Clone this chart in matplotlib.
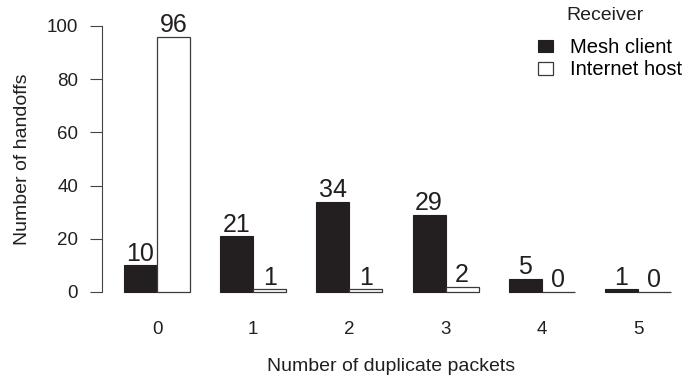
import matplotlib.pyplot as plt
import numpy as np

plt.rcParams['font.family'] = ['Liberation Sans', 'DejaVu Sans']

# Handoff counts by number of duplicate packets
dup_packets = ['0', '1', '2', '3', '4', '5']
mesh_client = [10, 21, 34, 29, 5, 1]
internet_host = [96, 1, 1, 2, 0, 0]


def main() -> None:
    W, H = 684, 379
    fig = plt.figure(figsize=(W / 100, H / 100), dpi=100)
    # plot region: spine at x=102 px, y from 26 px (100) to 292 px (0)
    ax = fig.add_axes([102 / W, (H - 292) / H, 578 / W, 266 / H])

    x = np.arange(len(dup_packets))
    w = 0.343
    ink = '#231f20'

    b1 = ax.bar(x - w / 2, mesh_client, w, color=ink, edgecolor=ink, lw=0.8,
                label='Mesh client', clip_on=False)
    b2 = ax.bar(x + w / 2, internet_host, w, color='white', edgecolor='#3a3a3a',
                lw=0.9, label='Internet host', clip_on=False)

    # value labels sitting just above each bar
    for bars, vals in ((b1, mesh_client), (b2, internet_host)):
        for r, v in zip(bars, vals):
            ax.text(r.get_x() + r.get_width() / 2, v + 1.7, str(v),
                    ha='center', va='baseline', fontsize=18, color=ink,
                    clip_on=False)

    ax.set_xlim(-0.572, 5.437)
    ax.set_ylim(0, 100)
    ax.set_yticks([0, 20, 40, 60, 80, 100])
    ax.set_xticks(x)
    ax.set_xticklabels(dup_packets)
    ax.tick_params(axis='x', length=0, pad=21, labelsize=13.5, colors=ink)
    ax.tick_params(axis='y', length=8.6, width=0.8, pad=8.6, labelsize=13.5,
                   colors=ink, color='#444444')

    for s in ('top', 'right', 'bottom'):
        ax.spines[s].set_visible(False)
    ax.spines['left'].set_color('#444444')
    ax.spines['left'].set_linewidth(0.8)

    ax.set_xlabel('Number of duplicate packets', fontsize=14, labelpad=14, color=ink)
    ax.set_ylabel('Number of handoffs', fontsize=14, labelpad=11, color=ink)

    fig.legend(handles=[b1, b2], loc='upper left',
               bbox_to_anchor=(538 / W, 1 - 38 / H), frameon=False,
               borderpad=0, borderaxespad=0,
               fontsize=14.5, handlelength=0.72, handleheight=0.6,
               handletextpad=0.85, labelspacing=0.16)
    fig.text(605.5 / W, 1 - 15 / H, 'Receiver', ha='center', va='center',
             fontsize=14, color=ink)

    fig.savefig('out.png', dpi=100)


if __name__ == "__main__":
    main()
